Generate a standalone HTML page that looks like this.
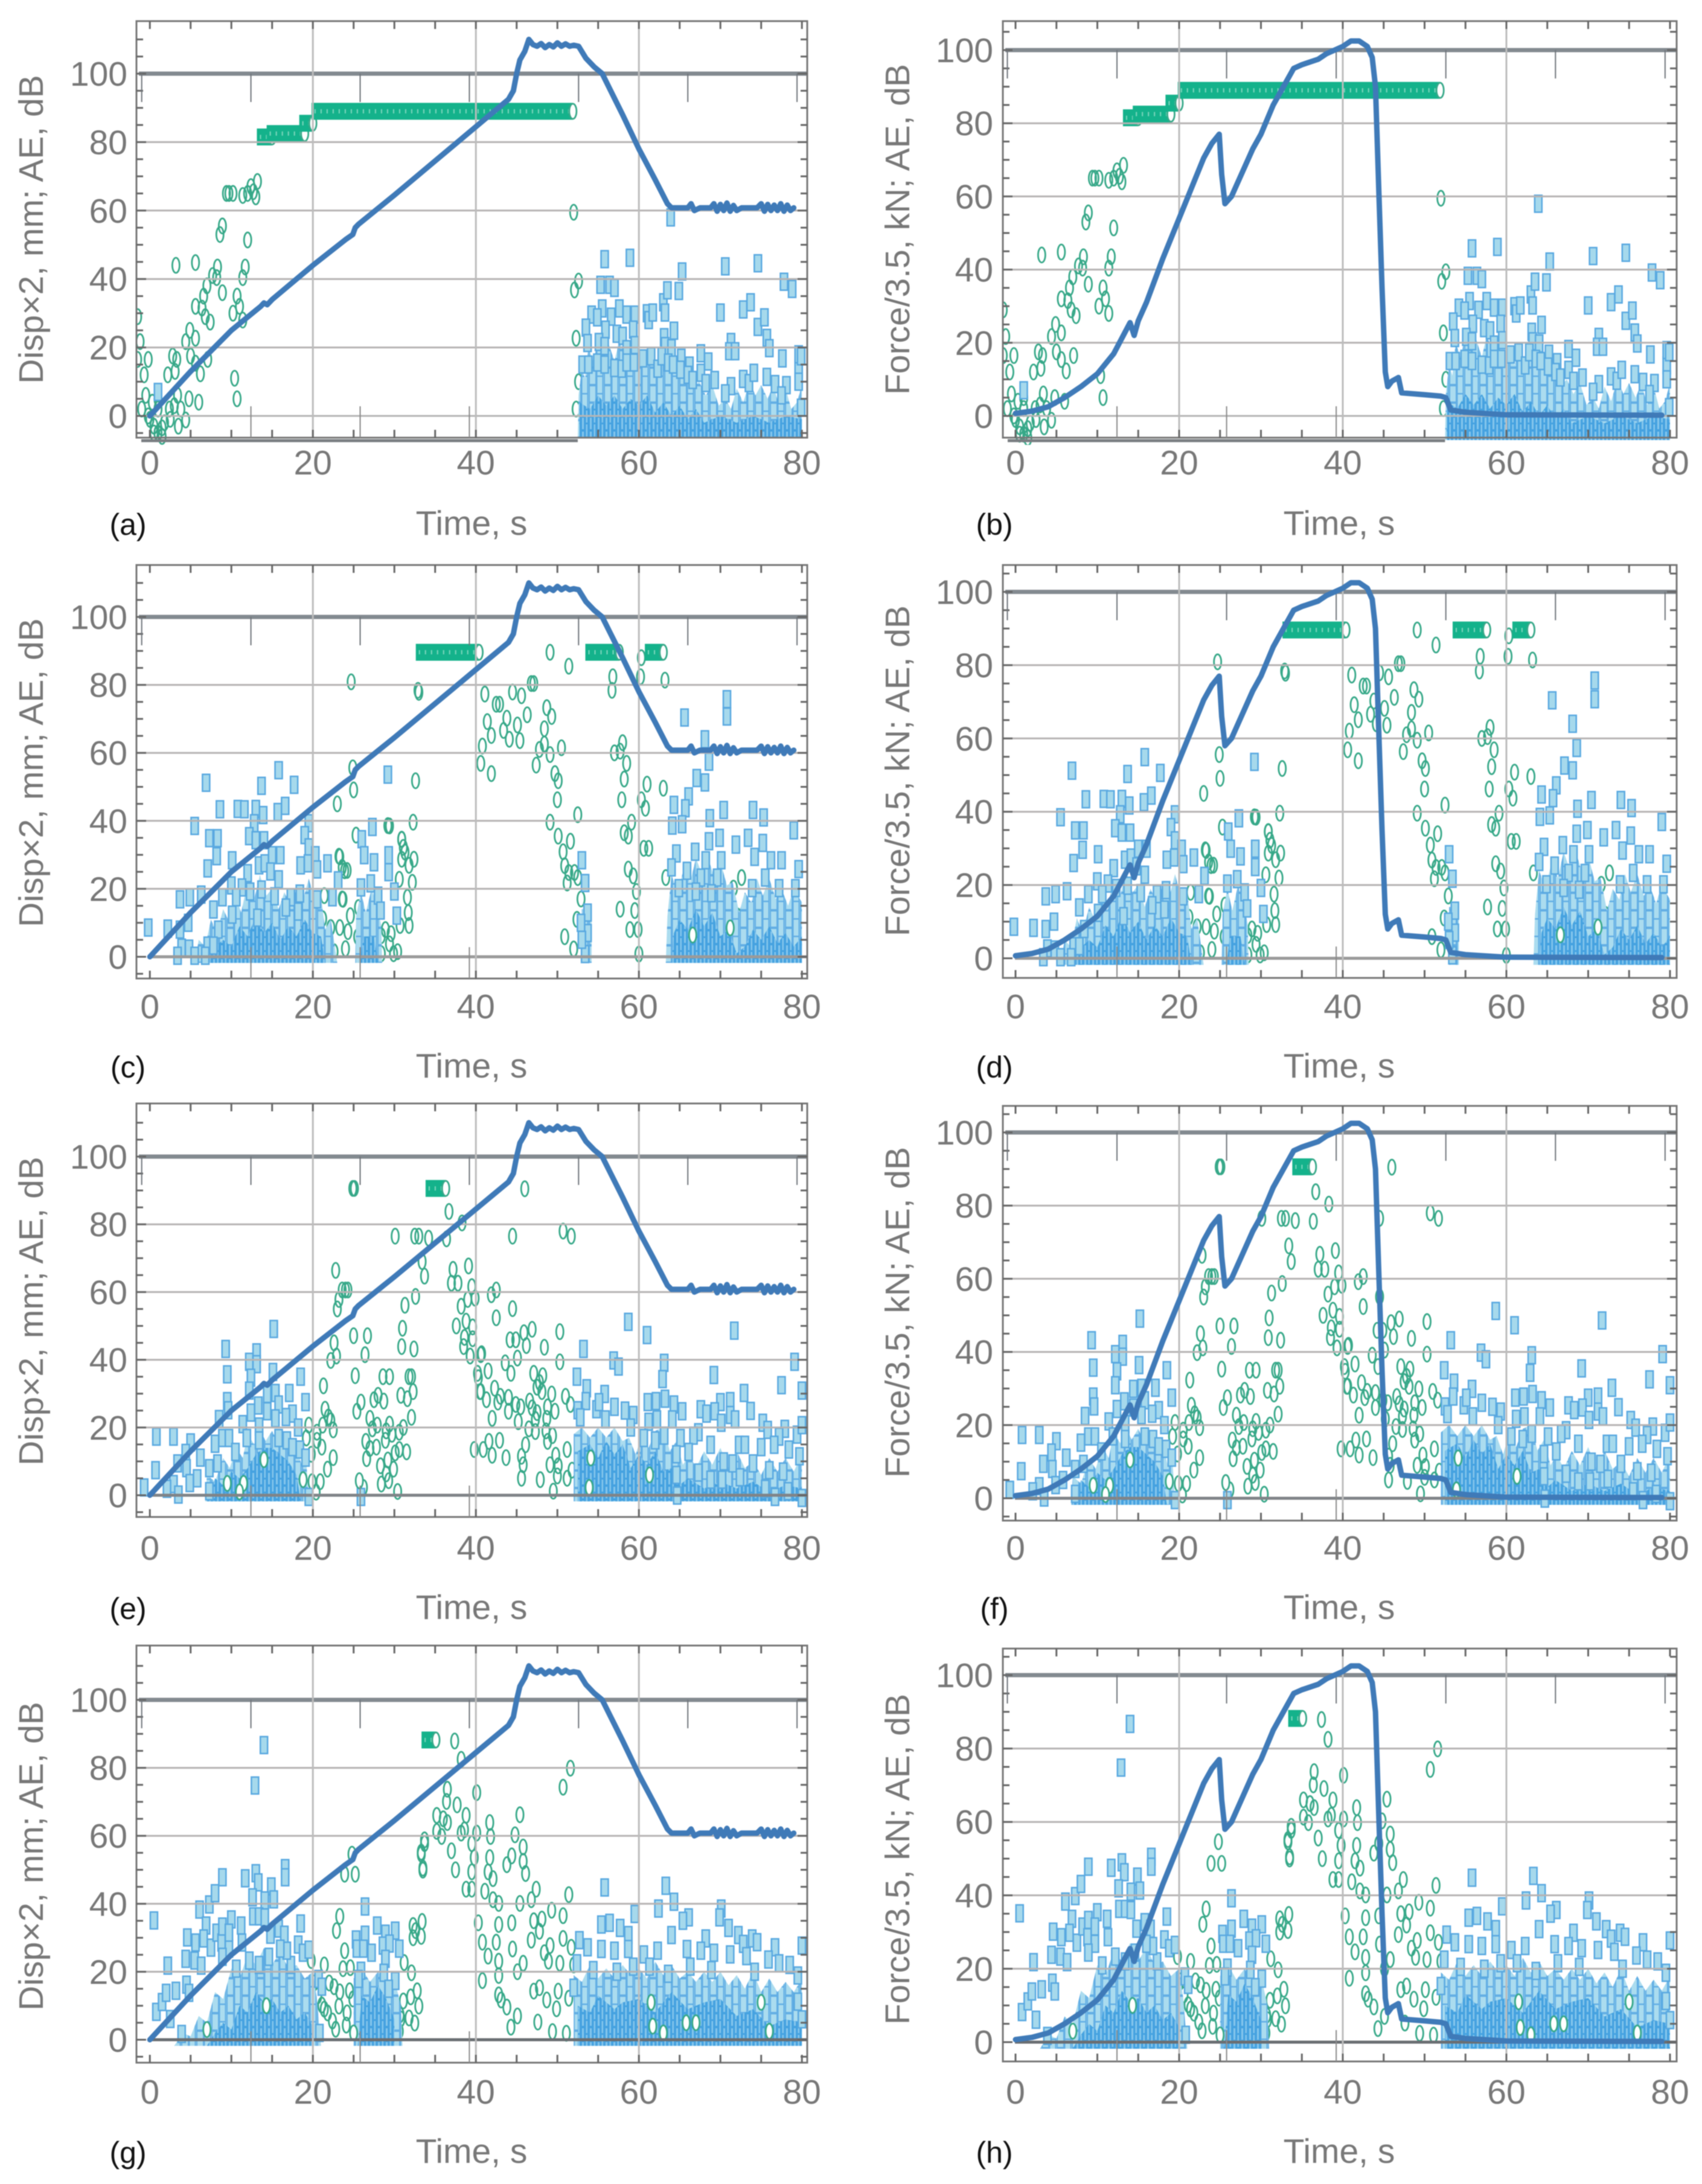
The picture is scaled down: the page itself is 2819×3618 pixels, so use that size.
<!DOCTYPE html>
<html lang="en">
<head>
<meta charset="utf-8">
<title>Displacement, force and AE amplitude versus time</title>
<style>
html,body{margin:0;padding:0;background:#fff;}
svg{display:block;filter:blur(0.8px);}
text{font-family:"Liberation Sans",sans-serif;fill:#777;}
</style>
</head>
<body>
<svg id="fig" xmlns="http://www.w3.org/2000/svg" width="2819" height="3618" viewBox="0 0 2819 3618">
<defs>
<pattern id="hatchLight" width="25" height="29" patternUnits="userSpaceOnUse">
<rect width="25" height="29" fill="#abdcef"/>
<rect x="1" y="1" width="11" height="27" fill="none" stroke="#62aee4" stroke-width="2"/>
<rect x="13.5" y="-13" width="10" height="27" fill="none" stroke="#62aee4" stroke-width="2"/>
<rect x="13.5" y="14.5" width="10" height="27" fill="none" stroke="#62aee4" stroke-width="2"/>
</pattern>
<pattern id="hatchCore" width="13" height="23" patternUnits="userSpaceOnUse">
<rect width="13" height="23" fill="#86c6ec"/>
<rect x="1" y="1" width="5" height="21" fill="none" stroke="#45a2e0" stroke-width="2"/>
<rect x="7.5" y="-10" width="4.5" height="21" fill="none" stroke="#45a2e0" stroke-width="2"/>
<rect x="7.5" y="12" width="4.5" height="21" fill="none" stroke="#45a2e0" stroke-width="2"/>
</pattern>
</defs>
</svg>
<script>
// ---------- axis tick labels ----------
const xTickLabels = [0, 20, 40, 60, 80];
const yTickLabels = [0, 20, 40, 60, 80, 100];
const yTitleLeft = "Disp×2, mm; AE, dB";
const yTitleRight = "Force/3.5, kN; AE, dB";
const xTitle = "Time, s";

// ---------- displacement curve (left column) ----------
const dispT = [0,5,10,13.6,14,14.4,15,20,24,24.9,25.2,25.6,30,35,40,42,44,44.6,45,45.4,46,46.5,47,47.5,48,48.5,49,49.5,50,50.5,51,51.5,52,52.6,53.5,54.5,55.5,58,60,62,63.5,64,66,66.4,66.8,67.5,68.8,69.2,69.6,70,70.4,70.8,71.2,71.6,72,72.6,74.5,75,75.4,75.8,76.2,76.6,77,77.4,77.8,78.2,78.6,79];
const dispV = [0,13,25,32,33,32.5,34,44,51.5,53,55,56,64.5,74.5,84.5,88.5,92.5,95,100,104,106.5,110,108.5,108,108.8,107.6,108.5,107.8,109,108,108.7,108,108.3,108,104.5,102,100,88,78,69,62,60.8,60.8,62,60,60.8,60.8,62,59.8,61.8,60,62.2,59.8,61.5,60,60.8,60.8,62,59.8,61.8,60,61.6,60,62,59.8,61.6,60,60.8];

// ---------- force curve (right column) ----------
const forceT = [0,2,4,6,8,10,12,14,14.5,15,16,18,20,22,23,24,24.9,25.2,25.6,26.4,27,28,29,30,31.5,33,34,35,37,38,40,41,42,43,43.6,44,44.4,44.8,45.2,45.5,46,46.8,47.2,50,52,52.6,53.2,55,60,79];
const forceV = [0.7,1.3,2.5,5,8,11.5,17,25.5,22,26,31,43,54,65,70.5,74.5,77,66,58,60,63,68,73,77,85,91,95,96,97.5,99,101,102.5,102.5,101,98,90,62,35,12,8,9.5,10.5,6.3,5.8,5.4,5,1.6,1,0.3,0.2];

// ---------- AE events, rows (a)/(b) ----------
const greenAB = [[-1.5,29],[-1.2,21.7],[-1.5,16.5],[-0.2,16.5],[-0.5,6],[-1,2],[-0.2,0],[0.5,-5],[1.5,-6],[2.8,17.5],[3.3,16.5],[2.2,12],[3.1,13],[2.4,2],[3.4,6],[3.8,2],[4.4,-1.2],[4.8,5],[6,4],[4.4,21.7],[4.9,25],[5.6,22.7],[5,17.5],[5.6,15.4],[6.2,12.3],[7.1,16.5],[5.6,32],[6.4,31.5],[6.8,29],[7.4,27.4],[7,38],[6.6,35],[7.7,41],[8.3,43.5],[8.2,40.4],[8.9,36],[3.2,44],[5.6,44.8],[8.9,55.5],[8.6,53],[9.4,65],[9.7,65],[10.2,65],[11.4,64.4],[12.4,67],[13.2,68.5],[13,64],[12,65],[12.7,65.5],[12,51.4],[11.7,43.5],[11.4,40.4],[10.7,35],[11,32],[10.2,30],[11.4,28],[10.4,11],[10.7,5],[52,59.5],[52.6,39.4],[52.1,36.8],[52.3,22.7],[52.6,10],[52.3,2],[0.5,-3],[1,-5],[0,-1],[1.8,-2],[1,2],[2.5,-1],[3,3],[0.3,4],[1,5],[-0.7,12],[1.5,-3.5],[3.5,-3]];
const greenBandAB = [[13.5,15,81.5],[14.7,19,82.5],[18.7,20,85.5],[20.2,51.9,89]];
const blueAB = [[1,7],[63.9,58],[55.8,45.8],[58.9,46.2],[55.3,38.3],[56.4,38.3],[57,37.4],[55.5,31.4],[54.2,29.6],[54.9,28.8],[56.6,29],[57.6,31.4],[58.5,29.6],[59.5,29.6],[53.5,25.8],[55.9,25.2],[53.7,21.3],[55.1,21.6],[55.8,20.4],[57.3,24],[58,23.4],[59.3,25.2],[58.5,19.5],[59.5,20.7],[53.1,15],[53.8,15],[54.9,15.6],[55.8,15],[57,14],[57.9,13.8],[58.5,15.6],[59.4,15.6],[61,30],[61.2,28],[61.7,30.2],[63,33.2],[63.2,30.2],[63.1,23],[63.2,20.4],[63.5,36.7],[64.9,36.5],[65.3,42.2],[64.3,24.9],[64,19.8],[67.6,18.3],[68.5,15.9],[60.5,16.8],[61.5,17.4],[62.3,13.8],[62.8,17.4],[63.6,15.6],[64.2,15],[65.2,17],[65.1,13.5],[66.2,14.7],[66,12],[66.6,10.5],[67.6,12.6],[68.2,9.6],[69.3,10.5],[70.6,43.7],[70,30.2],[74.6,44.6],[72.8,31.1],[73.7,33.2],[74.6,26],[75.4,28.8],[75.7,22.8],[76,19.8],[71.3,21.6],[71.1,18.9],[71.8,18.9],[77.8,39.2],[78.8,37.1],[77.6,16.8],[79.6,13.8],[79.6,18],[79.9,17.4],[71.3,8.7],[70.6,6.6],[72.8,10.8],[73.5,9.6],[74.1,12.6],[75.7,11.4],[76.7,9.3],[78.1,9],[77.5,6],[79.6,10],[79.9,2.4]];
const blueCloudAB = [[52.5,-6.6],[52.6,6],[53,14],[53.4,11],[53.8,20],[54.4,16],[55,22],[55.6,18],[56.3,21],[57,16],[57.6,22],[58.3,18],[59,20],[59.6,14],[60.2,18],[61,14],[61.6,19],[62.2,13],[63,18],[63.6,14],[64.2,18],[65,12],[65.8,14],[66.6,8],[67.4,10],[68.2,6],[69,9],[69.8,3],[70.6,5],[71.3,2],[72,8],[72.8,4],[73.6,10],[74.3,6],[75,9],[75.8,5],[76.5,9],[77.2,3],[78,8],[78.7,2],[79.4,4],[80,9],[80,-6.6]];
const blueCoreAB = [[52.7,-6.6],[52.7,4],[54,2],[55,6],[56,3],[57,6],[58,2],[59,5],[60,3],[61,6],[62,1],[63,4],[64,0],[65,3],[66,-1],[67,2],[68,-2],[70,0],[72,-2],[74,0],[76,-2],[78,0],[80,-1],[80,-6.6]];
const whiteRingAB = [];

// ---------- AE events, rows (c)/(d) ----------
const greenCD = [[24.7,80.9],[32.9,78.4],[33,77.8],[40.6,56.9],[40.8,62],[41.9,53.9],[41.1,77.3],[41.4,69.2],[41.9,65.1],[43.8,70.2],[43.4,66.6],[44.1,64],[44.5,77.9],[45.6,76.8],[46.8,80.4],[47.1,80.4],[46.3,71.2],[45.1,68.2],[45.4,63.6],[42.5,74.3],[42.9,74.3],[49.1,89.6],[51.4,85.5],[48.7,73.3],[49.3,70.7],[48.4,67.1],[47.8,61],[48.4,62.6],[49.1,59.5],[50.5,61.5],[47.4,56.4],[49.7,53.9],[50.1,51.8],[50,46.2],[49.1,39.6],[50.1,35.5],[50.7,30.9],[51.6,34],[52.5,41.8],[50.9,26.8],[51.4,24.8],[52.1,24.8],[51.2,21.7],[52.5,23.3],[52.9,17],[52.4,11],[50.9,5.9],[52,2.3],[53.2,6.9],[56.8,82.4],[56.7,78.4],[60.3,88],[60.2,82.4],[63.2,81.4],[57,60],[58,63],[57.7,60.5],[58.5,56.9],[58.2,52.3],[57.9,46.2],[61,50.8],[60.3,46.2],[60.8,43.7],[63,49.6],[59.1,39.6],[58.2,36.5],[58.7,35.5],[60.6,31.9],[61.2,31.9],[58.7,25.8],[59.3,23.8],[59.7,19.2],[57.7,14],[59.5,13.6],[58.9,8],[59.9,8],[60,0.8],[63.3,23.3],[71.6,20.2],[72.6,23.3],[72.1,12],[71.2,8.5],[72.9,10],[72.6,2.3],[24.9,55.6],[25,49.1],[23,45],[25.3,35.8],[29.4,38.5],[32.3,39.6],[32.6,51.8],[30.9,34.6],[31.1,32.2],[31.3,30.8],[30.9,28.7],[32.4,28.7],[31.8,26.9],[32.2,21.9],[30.6,22.8],[31.6,17.5],[31.7,13],[31.8,9.2],[30.7,9.2],[29.6,6.8],[28.9,8],[28.4,6.2],[29.4,3.8],[30.4,1.5],[29.9,0.9],[28.4,0.9],[23.2,29.6],[23.6,26.3],[24.2,25.4],[21.4,18],[23.7,16.9],[21.2,11.2],[22.2,8.6],[23.3,8.6],[24.6,12.1],[25.6,14.5],[24.3,7.4],[25.5,5.9],[27.3,8.6],[22.6,1.5],[24,2.4],[23.3,29.4],[23.9,25.3],[23.6,17],[29.2,38.6],[30.9,34.5]];
const greenBandCD = [[33,40.4,89.6],[53.8,57.6,89.6],[61.1,63,89.6]];
const blueCD = [[-0.2,8.6],[3.7,16.9],[4.9,17.5],[6.3,18.3],[2.2,8.3],[3.7,8],[4.7,10],[6.9,51.2],[5.5,38.5],[7.3,34.9],[8.3,34.9],[8.2,29.6],[7.1,26],[8.6,43.4],[10.8,43.5],[11.6,43.4],[13,43.5],[13.9,41.7],[13.7,50.3],[15.8,54.9],[17.7,50.6],[16.6,44.4],[15.7,42.6],[12.8,39.3],[12.2,35.5],[13,34.3],[14,34.3],[10.1,28.4],[15,29.9],[16,29.9],[19.5,39.3],[19,35.8],[19.5,32.2],[20.3,29.9],[21.8,27.5],[18.5,26.9],[19.4,27.5],[20.5,25.7],[29.2,53.6],[27.3,38.2],[26,34.6],[26.3,29.9],[27.5,27.8],[29.3,29.9],[29.3,24.9],[30,19.2],[23.1,22.5],[25.9,20.4],[27.1,21.6],[28,18],[28.3,13.6],[30.3,12.1],[22.4,17.5],[20.5,16.9],[12,24.6],[13.4,26.9],[14.1,27.5],[15.8,22.8],[14.8,25.1],[10,21],[11.3,20.4],[8.9,17.5],[10.6,17.5],[12.3,19.2],[13.7,19.8],[15.3,17.8],[17.3,17.5],[18.4,18.6],[7.8,13.9],[10.1,12.4],[13.2,11.5],[16.7,14.5],[18.2,13.3],[8.4,8],[7.1,3.3],[7.8,3.3],[3.9,2.7],[4.8,2.4],[3.4,0.3],[5.5,0.3],[6.8,0.3],[65.6,70.4],[70.8,75.8],[70.8,70.7],[68.1,64],[68.6,57.4],[67.1,52.6],[68.1,51.3],[66.1,47.2],[64.3,44.7],[65.7,43.7],[70.4,43.2],[68.7,40.8],[74,43.2],[75.3,41],[79,37.2],[64.1,38.6],[65.3,39],[79.6,25.8],[64.6,30.4],[66.9,30.9],[68.6,34],[69.9,35],[71.9,33],[73.4,35],[75.2,33.5],[77.5,28.4],[74.2,29.4],[76.2,28.4],[68.2,28.4],[70.1,28.4],[64,26.3],[65.9,25.3],[67.6,23.3],[69.6,23.3],[75.5,23.3],[64.9,20.2],[67,19.2],[68.9,18.7],[73.9,20.2],[77.2,20.2],[79.2,20.2],[53,28.4],[53.4,21.7],[53.7,13],[53.7,7],[53.4,0.8],[52.9,10],[53,5]];
const blueCloudCD = [[5.5,-1.8],[6,5],[6.8,3],[7.5,11],[8.2,7],[9,14],[9.8,10],[10.5,18],[11.2,13],[12,22],[12.8,17],[13.5,24],[14.3,18],[15,20],[15.8,14],[16.5,19],[17.3,15],[18,20],[18.7,16],[19.5,23],[20.2,17],[21,18],[21.5,8],[22.2,11],[23,-1.8],[25.2,-1.8],[25.3,12],[25.9,19],[26.5,13],[27.2,20],[27.9,15],[28.4,9],[28.5,-1.8],[53,-1.8],[53,14],[54.2,14],[54.2,-1.8],[63.3,-1.8],[63.5,12],[64,24],[64.8,19],[65.5,26],[66.3,22],[67,29],[67.8,24],[68.5,29],[69.3,23],[70,28],[70.8,21],[71.5,22],[72.3,13],[73,19],[73.8,16],[74.5,23],[75.2,18],[76,23],[76.8,17],[77.5,20],[78.3,15],[79,20],[80,16],[80,-1.8]];
const blueCoreCD = [[6.5,-1.8],[7.5,2],[9,5],[10,3],[11,9],[12,6],[13,12],[14,7],[15,10],[16,5],[17,9],[18,6],[19,11],[20,7],[21,6],[21.5,-1.8],[25.8,-1.8],[26.2,6],[27.5,6],[28,-1.8],[64,-1.8],[64.3,7],[65,11],[66,8],[67,14],[68,9],[69,13],[70,6],[71,8],[72,1],[73,3],[74,8],[75,5],[76,9],[77,4],[78,7],[79,3],[80,6],[80,-1.8]];
const whiteRingCD = [[66.6,6.4],[71.2,8.5],[72.6,23.3]];

// ---------- AE events, rows (e)/(f) ----------
const greenEF = [[24.9,90.6],[25.1,90.6],[36.7,83.8],[30.1,76.5],[33,76.5],[32.5,76.5],[34.2,75.9],[36.4,75.7],[38.3,80.4],[22.8,66.4],[24,60.6],[24.3,60.6],[23.6,60.6],[23.2,57.8],[23,55],[33.7,64.7],[33.4,69],[32.6,58.7],[31.3,56.1],[31,49.3],[30.9,43.9],[32.4,43.2],[25,47.1],[26.7,47.1],[22.6,45],[26.4,41.5],[22.9,41.1],[22.2,39.8],[25.2,35.3],[28.6,35],[29.4,35],[31.8,35],[32.1,35],[21.3,32.3],[32.3,30.6],[30.8,29.5],[31.6,28.5],[28,29.5],[27.5,28.2],[28.7,27.8],[25.9,27.5],[25.4,24.8],[21.5,25.4],[32.1,23],[27,22.7],[21.9,23.1],[22.2,22],[22.5,19.3],[19.5,20.7],[21.2,20.7],[27.9,20.7],[29.4,21],[31.1,20],[30.6,18.6],[29,19],[29.7,18],[27.3,19.6],[20.5,18.6],[19.2,16.9],[20.5,16.2],[21.1,14.2],[28.9,16.2],[26.5,15.9],[27,13.8],[27.8,14.2],[30.6,13.5],[31.5,12.8],[30.1,12.5],[26.6,10.8],[22.5,11.1],[21.8,7.7],[19.8,12.1],[29.2,10.4],[28.3,8.7],[29.9,7.7],[29,6.3],[29.3,4.3],[28.4,3.3],[20.9,4],[19.9,4],[20.4,0.9],[26.2,2.3],[30.4,1.1],[37.2,66.7],[39.1,67.7],[37,62.6],[37.8,62.6],[39.5,61.6],[38.2,55.8],[39,57.8],[39.9,58.2],[37.6,50],[38.8,51.4],[39.6,49.7],[38.6,46.6],[39.6,46.2],[38.5,43.9],[39.3,41.1],[39.8,13.5],[40.6,41.5],[40.2,36],[40.5,30.6],[46,90.5],[44.5,76.5],[50.7,78],[51.7,76.5],[42.5,60.6],[41.9,59.2],[44.5,55.1],[42.5,52.4],[46.9,49],[45.9,48],[44.2,45.9],[44.9,45.9],[46.2,44.2],[48.4,43.7],[50.3,48.3],[40.7,41.8],[45.1,40.5],[43.6,39.1],[44.3,36],[50.3,39.4],[41.5,36.7],[47.1,36],[48.2,35.3],[40.3,34.7],[42.3,31.6],[40.6,30.6],[47.8,33.3],[47.5,31.9],[48.1,30.6],[49.3,29.9],[51,29.2],[51.6,26.8],[43,29.2],[44,28.9],[41.3,28.2],[42.7,27.5],[46.6,27.8],[44.9,26.8],[45.5,26.1],[44,24.8],[46.9,25.8],[48.8,26.1],[49.7,24.8],[47.5,24.4],[42,22.7],[45.2,21.7],[48.7,22.7],[47.3,22.4],[46.5,19.6],[48.6,19],[49.4,17.6],[47.3,18.8],[42.9,16.2],[41.6,15.9],[46.1,14.9],[48.8,15.9],[40.9,13.5],[42,11.8],[43.7,11.1],[45.6,11.5],[45.8,9],[51.2,13.5],[49.8,11.8],[49.1,9],[50.1,8.7],[51.2,5],[50,5.7],[47.9,4.6],[45.6,5],[49.5,1.2],[51.8,7.4]];
const greenBandEF = [[34.2,36.3,90.6]];
const blueEF = [[15.2,49.1],[9.3,43.2],[13.1,42.2],[12.2,39.4],[13.1,38.7],[9.5,35.7],[15.1,36.4],[12.4,34.7],[18.5,35],[12.2,30.9],[17.1,30.2],[15.4,30.2],[14.4,29.9],[9.5,27.8],[19.1,27.5],[13.3,26.5],[15.8,26.8],[8.5,22.5],[9.6,25.1],[11.4,21],[12.4,24.4],[14.4,24.8],[15.4,22.7],[17.5,24.1],[16.7,23.1],[13.4,20.3],[18.2,20],[0.8,17.3],[2.9,17.3],[5,15.6],[4.4,12.5],[6.2,11.1],[8,15.2],[8.9,16.9],[9.7,16.9],[10.5,12.8],[3.4,9.4],[0.7,7.4],[4.5,8],[-0.7,2.3],[2.9,3.3],[2.1,1.9],[3.5,0.2],[4.9,3.6],[5.8,5],[7.3,8],[8.3,9.4],[11.9,16.9],[13.4,16.2],[15.8,16.9],[16.8,16.2],[18.4,13.5],[19.1,11.1],[17.5,14.2],[7.3,1.2],[25.9,-0.5],[19.5,-0.5],[58.7,51.2],[61,47.3],[71.7,48.6],[53.2,43.2],[56.9,39.8],[57.5,38],[63.1,39.1],[62.9,34.3],[79.1,39.4],[52.4,35],[69.2,35.5],[77.5,32.5],[53.6,31.6],[72.9,30.2],[55.8,29.9],[73.7,24.9],[70,27.5],[71.2,27.8],[61.1,27.5],[62.1,27.8],[63.2,28.5],[64.3,26.8],[65.3,24.8],[67.6,25.4],[68.3,24.1],[69.3,24.8],[70.1,21.4],[71.2,23.7],[71.8,22.4],[75.2,21.4],[75.8,19.3],[77.9,19.6],[77.2,17.3],[79.4,17.9],[80,20.7],[80,30.9],[57,26.1],[54.8,25.4],[55.1,27.5],[53.5,27.8],[52.5,25.1],[52.8,23],[58.3,25],[59.3,23.7],[55.9,22.4],[59,20],[62.2,22.4],[64.1,22.4],[61.2,21.7],[65.1,16.9],[67.3,18.6],[66.7,17.6],[68.8,14.9],[72.3,14.9],[73,14.9],[75,14.2],[76.6,14.9],[78.4,13.5],[63.1,17.6],[60.6,16.9],[62,16.2],[64.6,12.1],[66.1,12.8],[70.4,10],[71.5,9.4],[74,9.4],[76,7.4],[77.7,7],[79.7,11.5],[67.3,6.7],[64.6,6],[68.8,4.6],[70.2,4.6],[72.4,5.3],[75.5,1.9],[78.3,1.2],[76.7,-0.5],[64.7,-0.1],[80,-0.8]];
const blueCloudEF = [[6.8,-1.8],[7,6],[8,4],[9,11],[9.8,8],[10.6,14],[11.4,11],[12,18],[12.8,15],[13.4,20],[14.2,16],[15,19],[15.8,15],[16.6,18],[17.4,14],[18,15],[18.6,9],[19.2,10],[19.5,-1.8],[52,-1.8],[52,18],[53,20],[54,17],[55,20],[56,17],[57,20],[58,16],[58.8,17],[59.6,12],[60.4,18],[61.2,14],[62,19],[63,20],[63.8,13],[64.6,16],[65.4,9],[66.2,12],[67,8],[68,13],[69,9],[70,14],[71,8],[72,13],[73,8],[74,10],[75,6],[76,11],[77,7],[78,11],[79,7],[80,12],[80,-1.8]];
const blueCoreEF = [[7,-1.8],[8,5],[9,3],[10,7],[11,5],[12,8],[13,12],[14,14],[15,14],[16,12],[17,10],[18,6],[18.5,-1.8],[52.5,-1.8],[52.5,13],[54,15],[55,11],[56,16],[57,12],[58,15],[59,8],[60,12],[61,9],[62,13],[63,7],[64,8],[65,3],[66,5],[68,2],[70,4],[72,2],[74,4],[76,1],[78,3],[80,2],[80,-1.8]];
const whiteRingEF = [[14,10.5],[9.5,3.5],[11.5,3.5],[11,1],[18.8,4.6],[25.7,4.3],[54.1,11],[53.9,2.3],[61.3,6]];

// ---------- AE events, rows (g)/(h) ----------
const greenGH = [[37.4,87.9],[38.2,82.5],[51.6,79.9],[50.7,74.3],[36.5,73.7],[40.1,72.7],[36.4,70.1],[37.7,69.1],[45.4,66.2],[35.2,66],[38.8,66],[36,65],[36.5,63.9],[35.2,61.3],[35.8,59.8],[38.2,60.8],[38.6,61.8],[40.1,60.8],[41.7,63.9],[41.8,59.8],[39.5,57.7],[44.8,60.3],[33.7,57.7],[33.3,54.6],[33.5,50.5],[37,55.6],[39.8,53.6],[39.5,49.4],[37.5,50],[41.7,53.6],[41.5,49.4],[44.4,54.1],[43.8,51.5],[45.8,56.7],[45.8,52.5],[46.1,48.9],[38.8,44.3],[39.5,44.3],[41.1,43.7],[42.1,47.4],[42.8,40.1],[42.1,41.2],[47.4,44.3],[46.8,41.2],[45.4,40.1],[51.4,42.7],[49.3,38.1],[50.7,36.5],[40.3,34.4],[42.8,33.9],[44.4,34.4],[48.1,35.5],[47.1,35],[40.8,28.7],[42.5,28.7],[41.5,24.6],[44.5,26.7],[46.8,29.3],[47.8,31.9],[49.1,27.7],[50.7,29.8],[51.7,27.2],[48.4,25.6],[42.8,23.1],[45.8,22.5],[45.1,20],[48.9,23.1],[50.3,22.5],[52,22],[40.8,17.4],[42.8,18.9],[42.8,13.2],[43.1,11.7],[47.1,14.3],[47.8,15.3],[48.7,11.7],[50.1,14.3],[51.4,12.2],[49.9,9.1],[43.8,9.6],[45.1,7],[44.3,3.7],[47.6,5.2],[49.4,2.4],[51.1,1.9],[23.3,36.3],[22.9,32.1],[25.2,48.7],[24.8,54.6],[23.9,48.7],[32.3,33.6],[33.4,34.8],[32.6,32.1],[33.3,30.4],[32.3,30],[19.8,23.3],[21.4,22],[23.9,26.2],[23.7,20.9],[24.6,21.2],[31.2,22.7],[32.1,19.7],[20.1,16.7],[22,16.7],[22.6,15.6],[20.6,12.9],[23.3,14.1],[24.5,14.4],[24.9,12],[21.4,9],[21.8,7.9],[23.2,9.9],[24.2,7.9],[22.4,5.5],[22.8,3.1],[21.1,10.2],[24.1,4.3],[32.8,14.4],[32,12.6],[31.1,11.4],[33,9.9],[31.8,6.4],[30.8,6.1],[32.5,4.9],[30.7,7.3],[30.6,2.5],[33.7,58.8],[33.3,55.2],[33.5,49.9]];
const greenBandGH = [[33.7,35.1,88.2]];
const blueGH = [[0.5,35.1],[2.2,21.8],[0.8,8.2],[1.5,11.1],[2,13.8],[3.2,14.4],[2.5,6.1],[4.5,16.2],[4.8,13.8],[3.9,1.7],[4.4,23.8],[5.5,23.3],[6.3,21.8],[4.6,30.1],[5.6,28.6],[6.1,38.3],[6.9,33.6],[6.6,29.8],[7.3,39.8],[8,43.1],[7.5,27.1],[8.2,31.5],[8.9,47.8],[8.8,28.6],[8.9,33.3],[10,35.4],[9.7,26.8],[9.7,31.5],[11.2,33.6],[11.3,28.6],[11.7,47.5],[13,49],[13.3,46.3],[12.6,41.9],[14.9,45.1],[15.2,41.3],[14.1,41],[12.7,36.3],[13.4,36.3],[14.1,36],[16.6,50.5],[16.6,47.8],[14.8,30.9],[15.8,32.7],[16.5,30.9],[18.5,34.2],[18.2,28],[17.3,22],[18.8,25.6],[19.5,26.5],[16.8,26.2],[16,26.8],[14.6,24.4],[13.4,22],[8.9,24.4],[10.6,20.9],[12.2,23.3],[20.7,17.9],[21.1,15.6],[20.8,2],[26.4,39.2],[25.3,29.5],[26.4,30.9],[27.9,33.6],[28.9,31.2],[30.1,32.1],[25.4,26.8],[26.2,26.8],[27.2,25.6],[28.6,27.7],[29.4,28.3],[30.6,26.8],[28.9,23.8],[25.9,20.3],[28.7,19.7],[30.1,17.3],[29.3,15],[25.6,17.9],[14,86.7],[12.9,74.8],[55.8,44.8],[63.3,45.3],[62.4,38.6],[64.3,40.6],[59.5,37],[66.1,36],[70.1,38.6],[65.4,35],[55.4,33.9],[56.4,34.4],[57.7,32.9],[58.7,30.8],[52.7,29.3],[64,30.8],[69.9,36],[71,32.9],[72.2,30.8],[73.9,29.8],[74.5,28.7],[72.8,28.2],[68.2,29.8],[80,27.7],[76.7,27.2],[75.9,23.6],[77.2,22.5],[78.5,22],[53.7,27.2],[55.4,26.7],[57,26.2],[58.7,26.7],[60.6,25.1],[62.3,26.2],[65.9,26.7],[67.6,26.2],[69.2,25.6],[71.2,25.1],[73.2,24.6],[52.4,22.5],[54.4,20.5],[57.3,20],[59.3,21.5],[61.3,21.5],[63.6,19.4],[66.3,21.5],[68.9,20.5],[74.2,20],[79.5,18.9],[52,15.3],[79.5,11.2],[80,6]];
const blueCloudGH = [[3,-1.8],[4,2],[5,1],[6,7],[7,5],[8,14],[9,12],[10,21],[11,18],[12,25],[13,22],[14,27],[15,22],[16,26],[17,21],[18,22],[19,18],[20,20],[20.5,12],[21,-1.8],[25,-1.8],[25,18],[26,21],[27,17],[28,20],[29,16],[30,18],[30.8,10],[31,-1.8],[52,-1.8],[52,19],[53,17],[54,22],[55,18],[56,21],[57,18],[58,22],[59,19],[60,21],[61,18],[62,23],[63,19],[64,22],[65,18],[66,20],[67,17],[68,20],[69,17],[70,20],[71,16],[72,19],[73,15],[74,20],[75,14],[76,18],[77,14],[78,17],[79,14],[80,18],[80,-1.8]];
const blueCoreGH = [[7,-1.8],[8,2],[9,5],[10,3],[11,10],[12,8],[13,14],[14,11],[15,12],[16,8],[17,10],[18,6],[19,8],[20,4],[20,-1.8],[25.5,-1.8],[26,13],[27,11],[28,16],[29,12],[30,6],[30,-1.8],[52.5,-1.8],[52.5,10],[54,8],[55,13],[57,9],[58,11],[60,12],[62,8],[64,14],[66,9],[68,11],[70,12],[72,7],[74,9],[76,4],[78,6],[80,5],[80,-1.8]];
const whiteRingGH = [[14.3,10],[7,3],[25,2],[61.5,11],[61.7,4],[65.8,5],[67,5],[75,11],[76,2.5],[63,2]];

// ---------- panel layout (geometry only) ----------
const leftCol = {fl:226, fr:1337, x0:248.2, kx:13.5, tickEnd:211, yTitleX:56, labelX:212, timeX:781};
const rightCol = {fl:1661, fr:2777, x0:1682, kx:13.55, tickEnd:1645, yTitleX:1491, labelX:1647, timeX:2218};
const panels = [
 {id:'a',col:leftCol, top:35,  bot:725, y0:689,  ky:5.67,title:yTitleLeft, tickY:786, timeY:886, titleY:380, green:greenAB,band:greenBandAB,blue:blueAB,cloud:blueCloudAB,core:blueCoreAB,ring:whiteRingAB,base:'frame',curve:'disp'},
 {id:'b',col:rightCol,top:35,  bot:725, y0:689,  ky:6.06,title:yTitleRight,tickY:786, timeY:886, titleY:380, green:greenAB,band:greenBandAB,blue:blueAB,cloud:blueCloudAB,core:blueCoreAB,ring:whiteRingAB,base:'frame',curve:'force'},
 {id:'c',col:leftCol, top:936, bot:1621,y0:1585, ky:5.63,title:yTitleLeft, tickY:1687,timeY:1785,titleY:1280,green:greenCD,band:greenBandCD,blue:blueCD,cloud:blueCloudCD,core:blueCoreCD,ring:whiteRingCD,base:'#9a9a9a',curve:'disp'},
 {id:'d',col:rightCol,top:936, bot:1620,y0:1587.5,ky:6.07,title:yTitleRight,tickY:1687,timeY:1785,titleY:1277,green:greenCD,band:greenBandCD,blue:blueCD,cloud:blueCloudCD,core:blueCoreCD,ring:whiteRingCD,base:'#9a9a9a',curve:'force'},
 {id:'e',col:leftCol, top:1828,bot:2513,y0:2477, ky:5.61,title:yTitleLeft, tickY:2584,timeY:2682,titleY:2172,green:greenEF,band:greenBandEF,blue:blueEF,cloud:blueCloudEF,core:blueCoreEF,ring:whiteRingEF,base:'#808488',curve:'disp'},
 {id:'f',col:rightCol,top:1832,bot:2519,y0:2482, ky:6.06,title:yTitleRight,tickY:2584,timeY:2682,titleY:2174,green:greenEF,band:greenBandEF,blue:blueEF,cloud:blueCloudEF,core:blueCoreEF,ring:whiteRingEF,base:'#808488',curve:'force'},
 {id:'g',col:leftCol, top:2726,bot:3417,y0:3379, ky:5.63,title:yTitleLeft, tickY:3485,timeY:3583,titleY:3075,green:greenGH,band:greenBandGH,blue:blueGH,cloud:blueCloudGH,core:blueCoreGH,ring:whiteRingGH,base:'#6a6e72',curve:'disp'},
 {id:'h',col:rightCol,top:2731,bot:3415,y0:3383, ky:6.08,title:yTitleRight,tickY:3485,timeY:3583,titleY:3080,green:greenGH,band:greenBandGH,blue:blueGH,cloud:blueCloudGH,core:blueCoreGH,ring:whiteRingGH,base:'#6a6e72',curve:'force'}
];

const NS = 'http://www.w3.org/2000/svg';
const fig = document.getElementById('fig');

function mk(tag, parent) {
  const el = document.createElementNS(NS, tag);
  parent.appendChild(el);
  return el;
}
function drawLine(parent, name, x1, y1, x2, y2, color, width) {
  const l = mk('line', parent);
  
  
  l.setAttribute('x1', x1);
  l.setAttribute('y1', y1);
  l.setAttribute('x2', x2);
  l.setAttribute('y2', y2);
  l.setAttribute('stroke', color);
  l.setAttribute('stroke-width', width);
  return l;
}
function drawText(parent, name, str, x, y, size, anchor, color) {
  const t = mk('text', parent);
  
  
  t.setAttribute('x', x);
  t.setAttribute('y', y);
  t.setAttribute('font-size', size);
  t.setAttribute('text-anchor', anchor);
  if (color) t.style.fill = color;
  t.textContent = str;
  return t;
}
function drawCloud(parent, name, pts, X, Y, fill) {
  const poly = mk('polygon', parent);
  
  
  poly.setAttribute('points', pts.map(function (p) { return X(p[0]) + ',' + Y(p[1]); }).join(' '));
  poly.setAttribute('fill', fill);
}
function drawRing(parent, name, x, y, fill) {
  const e = mk('ellipse', parent);
  
  
  e.setAttribute('cx', x);
  e.setAttribute('cy', y);
  e.setAttribute('rx', 6);
  e.setAttribute('ry', 12.5);
  e.setAttribute('fill', fill);
  e.setAttribute('stroke', '#36a888');
  e.setAttribute('stroke-width', 2.8);
}

panels.forEach(function (p) {
  const c = p.col;
  const X = function (t) { return c.x0 + c.kx * t; };
  const Y = function (v) { return p.y0 - p.ky * v; };

  const g = mk('g', fig);
  
  

  const clipId = 'clip-' + p.id;
  const clip = mk('clipPath', g);
  clip.setAttribute('id', clipId);
  const clipRect = mk('rect', clip);
  clipRect.setAttribute('x', c.fl);
  clipRect.setAttribute('y', p.top);
  clipRect.setAttribute('width', c.fr - c.fl + 2);
  clipRect.setAttribute('height', p.bot - p.top + 12);

  // scatter layer
  const marks = mk('g', g);
  
  
  marks.setAttribute('clip-path', 'url(#' + clipId + ')');

  p.green.forEach(function (d) {
    drawRing(marks, 'ae-green-point', X(d[0]), Y(d[1]), 'none');
  });
  p.band.forEach(function (b) {
    const r = mk('rect', marks);
    
    
    r.setAttribute('x', X(b[0]) - 5);
    r.setAttribute('y', Y(b[2]) - 14);
    r.setAttribute('width', X(b[1]) - X(b[0]) + 5);
    r.setAttribute('height', 28);
    r.setAttribute('fill', '#14b28b');
    const fleck = drawLine(marks, 'ae-saturated-band-texture', X(b[0]), Y(b[2]), X(b[1]) - 6, Y(b[2]), '#7fd6bd', 7);
    fleck.setAttribute('stroke-dasharray', '2 8');
    drawRing(marks, 'ae-green-point', X(b[1]), Y(b[2]), '#fff');
  });

  drawCloud(marks, 'ae-blue-cloud', p.cloud, X, Y, 'url(#hatchLight)');
  drawCloud(marks, 'ae-blue-core', p.core, X, Y, 'url(#hatchCore)');
  p.blue.forEach(function (d) {
    const r = mk('rect', marks);
    
    
    r.setAttribute('x', X(d[0]) - 6);
    r.setAttribute('y', Y(d[1]) - 14);
    r.setAttribute('width', 12);
    r.setAttribute('height', 28);
    r.setAttribute('fill', '#a6d9ec');
    r.setAttribute('stroke', '#58a8e0');
    r.setAttribute('stroke-width', 2.5);
  });
  p.ring.forEach(function (d) {
    drawRing(marks, 'ae-green-point-over-blue', X(d[0]), Y(d[1]), '#fff');
  });

  // grid
  yTickLabels.forEach(function (v) {
    if (v === 0 && p.base === 'frame') {
      drawLine(g, 'grid-y-0', c.fl, Y(0), c.fr, Y(0), '#b5b5b5', 3);
    } else if (v === 0) {
      drawLine(g, 'zero-line', c.fl + 20, Y(0), c.fr, Y(0), p.base, 5);
    } else if (v === 100) {
      drawLine(g, 'level-100-line', c.fl + 4, Y(100), c.fr + 1, Y(100), '#838a90', 7);
    } else {
      drawLine(g, 'grid-y-' + v, c.fl, Y(v), c.fr, Y(v), '#b5b2b2', 3);
    }
  });
  xTickLabels.forEach(function (t) {
    if (t > 0 && t < 80) drawLine(g, 'grid-x-' + t, X(t), p.top, X(t), p.bot, '#bcbcbc', 3);
  });

  // frame
  const fr = mk('rect', g);
  
  
  fr.setAttribute('x', c.fl);
  fr.setAttribute('y', p.top);
  fr.setAttribute('width', c.fr - c.fl);
  fr.setAttribute('height', p.bot - p.top);
  fr.setAttribute('fill', 'none');
  fr.setAttribute('stroke', '#777');
  fr.setAttribute('stroke-width', 3);
  if (p.base === 'frame') drawLine(g, 'baseline-bar', c.fl + 8, p.bot + 5, X(52.5), p.bot + 5, '#7a7e82', 5);

  // minor ticks every 5 units
  for (let t = 0; t <= 80; t += 5) {
    drawLine(g, 'x-tick-top', X(t), p.top, X(t), p.top + 13, '#666', 3);
    drawLine(g, 'x-tick-bottom', X(t), p.bot, X(t), p.bot - 13, '#666', 3);
  }
  for (let v = -5; v <= 115; v += 5) {
    if (Y(v) < p.top + 6 || Y(v) > p.bot - 6) continue;
    drawLine(g, 'y-tick-left', c.fl, Y(v), c.fl + (v % 20 === 0 ? 16 : 11), Y(v), '#666', 3);
    drawLine(g, 'y-tick-right', c.fr, Y(v), c.fr - (v % 20 === 0 ? 16 : 11), Y(v), '#666', 3);
  }
  // long ticks of the overlaid level frame
  for (let t = -1; t <= 80; t += 13.4) {
    drawLine(g, 'level-tick', X(t), Y(100), X(t), Y(100) + 47, '#6f747a', 2);
  }
  for (let t = 12.4; t < 50; t += 13.4) {
    drawLine(g, 'base-tick', X(t), p.bot, X(t), p.bot - 52, '#8a8a8a', 2);
  }

  // curve
  const tv = p.curve === 'disp' ? dispT : forceT;
  const vv = p.curve === 'disp' ? dispV : forceV;
  const path = mk('polyline', g);
  
  
  path.setAttribute('points', tv.map(function (t, i) { return X(t) + ',' + Y(vv[i]); }).join(' '));
  path.setAttribute('fill', 'none');
  path.setAttribute('stroke', '#3f7ab8');
  path.setAttribute('stroke-width', 9);
  path.setAttribute('stroke-linejoin', 'round');
  path.setAttribute('stroke-linecap', 'round');

  // tick labels and titles
  xTickLabels.forEach(function (t) {
    drawText(g, 'x-tick-label', String(t), X(t), p.tickY, 57, 'middle');
  });
  yTickLabels.forEach(function (v) {
    drawText(g, 'y-tick-label', String(v), c.tickEnd, Y(v) + 20, 57, 'end');
  });
  drawText(g, 'x-axis-title', xTitle, c.timeX, p.timeY, 57, 'middle');
  const yt = drawText(g, 'y-axis-title', p.title, c.yTitleX, p.titleY, 57, 'middle');
  yt.setAttribute('transform', 'rotate(-90 ' + c.yTitleX + ' ' + p.titleY + ')');
  yt.setAttribute('dominant-baseline', 'middle');
  drawText(g, 'panel-label', '(' + p.id + ')', c.labelX, p.timeY, 50, 'middle', '#111');
});
</script>
</body>
</html>
